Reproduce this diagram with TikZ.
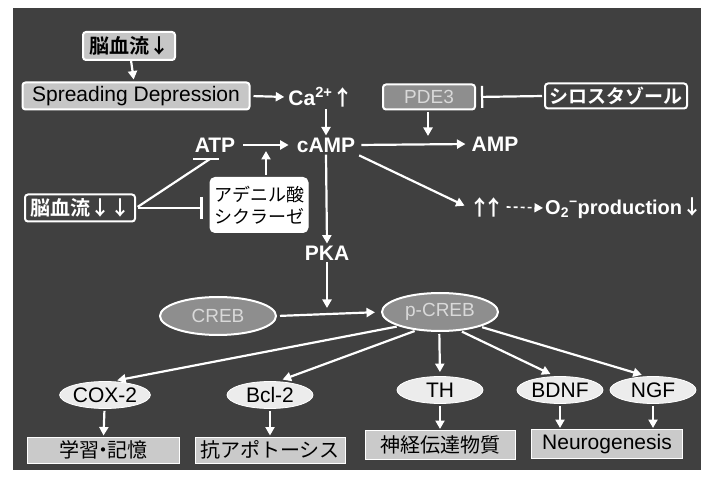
\documentclass[tikz,border=0pt]{standalone}
\usepackage{fontspec}
\setmainfont{Liberation Sans}
\newfontfamily\jp{Noto Sans CJK JP}[BoldFont={Noto Sans CJK JP Bold}]
\usetikzlibrary{arrows.meta,shapes.geometric}
\definecolor{panel}{HTML}{404040}
\definecolor{lightbox}{HTML}{C6C6C6}
\definecolor{midbox}{HTML}{8E8E8E}
\definecolor{ellfill}{HTML}{ECECEC}
\definecolor{resfill}{HTML}{CACACA}
\begin{document}
\begin{tikzpicture}[x=1pt,y=-1pt,
  lbox/.style={draw=white, line width=2pt, fill=lightbox, rounded corners=3pt, inner sep=0pt, text=black},
  dbox/.style={draw=white, line width=2pt, fill=panel, rounded corners=3pt, inner sep=0pt, text=white},
  mbox/.style={draw=white, line width=2pt, fill=midbox, rounded corners=3pt, inner sep=0pt, text=white!85!black},
  wbox/.style={draw=white, line width=1pt, fill=white, rounded corners=5pt, inner sep=0pt, text=black},
  rbox/.style={draw=white, line width=1pt, fill=resfill, inner sep=0pt, text=black, font=\fontsize{20}{20}\selectfont},
  mell/.style={ellipse, draw=white, line width=2pt, fill=midbox, inner sep=0pt, text=white!85!black, font=\fontsize{19}{19}\selectfont, minimum width=116pt, minimum height=38pt},
  well/.style={ellipse, draw=white, line width=0.8pt, fill=ellfill, inner sep=0pt, text=black, font=\fontsize{21}{21}\selectfont, minimum width=86pt, minimum height=27pt},
  wlbl/.style={text=white, inner sep=2pt, font=\bfseries\fontsize{21}{21}\selectfont},
  wl/.style={draw=white, line width=2.2pt},
  arr/.style={wl, -{Triangle[length=8.5pt,width=9pt]}},
  inh/.style={wl, -{Bar[width=22pt,line width=2.2pt]}}
]
\useasboundingbox (0,0) rectangle (712,478);
\fill[white] (0,0) rectangle (712,478);
\fill[panel] (13,8) rectangle (701,470);

% top nodes
\node[lbox, minimum width=92pt, minimum height=28pt, font=\jp\bfseries\fontsize{20}{20}\selectfont] (bf1) at (129,46) {脳血流↓};
\node[lbox, minimum width=227pt, minimum height=27pt, font=\fontsize{21}{21}\selectfont] (sd) at (136,96) {Spreading Depression};
\node[wlbl] (ca) at (321,97) {Ca\textsuperscript{2+}{\jp ↑}};
\node[mbox, minimum width=92pt, minimum height=25pt, font=\fontsize{19}{19}\selectfont] (pde) at (429,97) {PDE3};
\node[dbox, minimum width=142pt, minimum height=25pt, font=\jp\bfseries\fontsize{19}{19}\selectfont] (cilo) at (616,96) {シロスタゾール};

\node[wlbl] (atp) at (215,145) {ATP};
\node[wlbl] (camp) at (326,145) {cAMP};
\node[wlbl] (amp) at (495,144) {AMP};
\node[wbox, minimum width=98pt, minimum height=55pt, align=center, font=\jp\fontsize{18}{22}\selectfont] (cyc) at (259,205) {アデニル酸\\シクラーゼ};
\node[dbox, minimum width=110pt, minimum height=27pt, font=\jp\bfseries\fontsize{20}{20}\selectfont] (bf2) at (80,208) {脳血流↓↓};
\node[text=white, inner sep=2pt, font=\jp\bfseries\fontsize{21}{21}\selectfont] (upup) at (487,207) {↑\kern-7pt↑};
\node[text=white, inner sep=2pt, anchor=west, font=\bfseries\fontsize{20}{20}\selectfont] (o2) at (543,208) {O\textsubscript{2}\textsuperscript{−}production{\jp ↓}};
\node[wlbl] (pka) at (327,253) {PKA};

% CREB level
\node[mell] (creb) at (218,316) {CREB};
\node[mell] (pcreb) at (440,312) {p-CREB};

% bottom ellipses
\node[well] (cox) at (105,395) {COX-2};
\node[well] (bcl) at (270,395) {Bcl-2};
\node[well] (th) at (440,390) {TH};
\node[well] (bdnf) at (560,390) {BDNF};
\node[well] (ngf) at (653,390) {NGF};

% result boxes
\node[rbox, minimum width=152pt, minimum height=26pt, font=\jp\fontsize{20}{20}\selectfont] (r1) at (103,450) {学習\kern-6pt・\kern-6pt記憶};
\node[rbox, minimum width=150pt, minimum height=26pt, font=\jp\fontsize{20}{20}\selectfont] (r2) at (270,450) {抗アポトーシス};
\node[rbox, minimum width=150pt, minimum height=29pt, font=\jp\fontsize{20}{20}\selectfont] (r3) at (440,445) {神経伝達物質};
\node[rbox, minimum width=151pt, minimum height=29pt, font=\fontsize{21}{21}\selectfont] (r4) at (607,444) {Neurogenesis};

% helper coordinates
\coordinate (acm) at (266,151);
\coordinate (pam) at (428,136);
\coordinate (cpm) at (327,308);
\coordinate (atpb) at (210,159);

% connectors
\draw[arr, shorten >=2pt] (bf1) -- (sd);
\draw[arr, shorten <=3pt, shorten >=2pt] (sd.east) -- (ca.west);
\draw[arr] (ca.south -| camp.north) -- (camp.north);
\draw[inh, shorten <=2pt, shorten >=5pt] (cilo.west) -- (pde.east);
\draw[arr, shorten <=2pt] (pde.south -| pam) -- (pam);
\draw[arr, shorten <=6pt, shorten >=6pt] (atp.east) -- (camp.west);
\draw[arr, shorten <=2pt] (cyc.north -| acm) -- (acm);
\draw[arr, shorten <=4pt, shorten >=4pt] (camp.east) -- (amp.west);
\draw[arr, shorten <=2pt, shorten >=3pt] (camp.south east) -- (upup.west);
\draw[arr, line width=1.6pt, dash pattern=on 4pt off 3pt] (upup.east) -- (o2.west);
\draw[wl, shorten <=2pt] (bf2.east) -- (atpb);
\draw[wl] ([xshift=-17pt]atpb) -- ([xshift=9pt]atpb);
\draw[inh, shorten <=2pt, shorten >=7pt] (bf2.east) -- (bf2.east -| cyc.west);
\draw[arr] (camp.south) -- (pka.north);
\draw[arr] (pka.south) -- (cpm);
\draw[arr, shorten <=3pt, shorten >=6pt] (creb.east) -- (pcreb.west);

\draw[arr, shorten <=2pt, shorten >=5pt] (pcreb.199) -- (cox.62);
\draw[arr, shorten <=2pt, shorten >=5pt] (pcreb.218) -- (bcl.60);
\draw[arr, shorten <=2pt, shorten >=4pt] (pcreb.268) -- (th.north);
\draw[arr, shorten <=2pt, shorten >=5pt] (pcreb.317) -- (bdnf.110);
\draw[arr, shorten <=2pt, shorten >=5pt] (pcreb.340) -- (ngf.115);

\draw[arr, shorten <=2pt, shorten >=1pt] (cox) -- (r1);
\draw[arr, shorten <=2pt, shorten >=1pt] (bcl) -- (r2);
\draw[arr, shorten <=2pt, shorten >=1pt] (th) -- (r3);
\draw[arr, shorten <=2pt, shorten >=1pt] (bdnf.south) -- (bdnf.south |- r4.north);
\draw[arr, shorten <=2pt, shorten >=1pt] (ngf.south) -- (ngf.south |- r4.north);
\end{tikzpicture}
\end{document}
